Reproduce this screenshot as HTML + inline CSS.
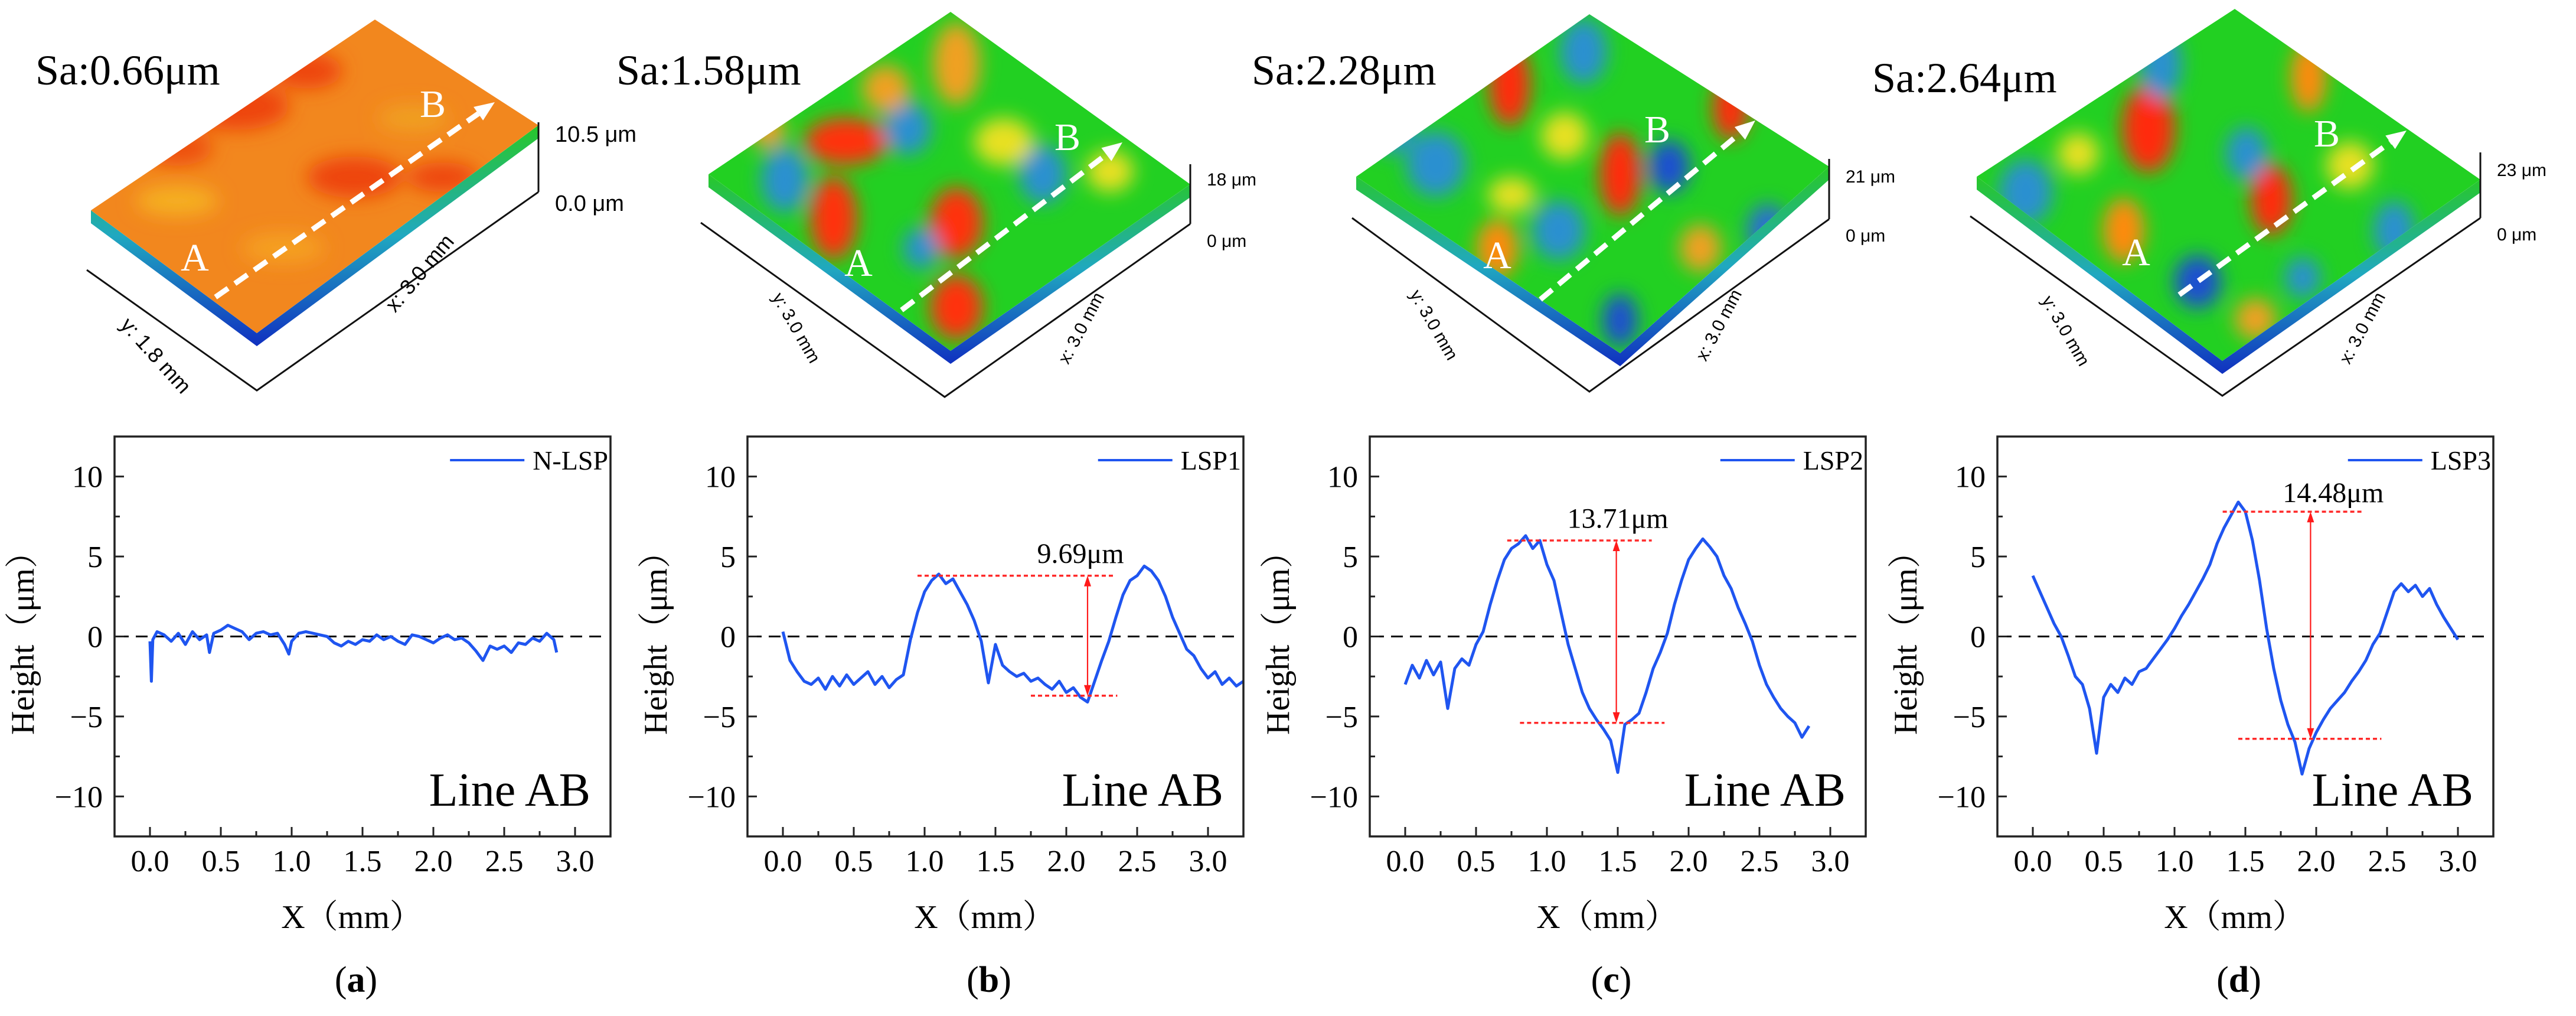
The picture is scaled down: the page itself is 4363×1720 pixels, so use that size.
<!DOCTYPE html>
<html><head><meta charset="utf-8"><style>
html,body{margin:0;padding:0;background:#fff;}
svg{display:block;}
</style></head><body>
<svg id="fig" width="4363" height="1720" viewBox="0 0 4363 1720" xmlns="http://www.w3.org/2000/svg">
<defs>
<filter id="blur" x="-50%" y="-50%" width="200%" height="200%"><feGaussianBlur stdDeviation="16"/></filter>
<linearGradient id="edgeg" x1="0" y1="0" x2="0" y2="1"><stop offset="0" stop-color="#28c828"/><stop offset="0.5" stop-color="#20a8c0"/><stop offset="1" stop-color="#1030c0"/></linearGradient>
</defs>
<g id="surfaces"></g>
<g id="plots"></g>
</svg>
<script>
// ---------- profile data ----------
const profileA_x = [0,0.01,0.02,0.05,0.1,0.15,0.2,0.25,0.3,0.35,0.4,0.42,0.45,0.5,0.55,0.6,0.65,0.7,0.75,0.8,0.85,0.9,0.95,0.98,1.0,1.05,1.1,1.15,1.2,1.25,1.3,1.35,1.4,1.45,1.5,1.55,1.6,1.65,1.7,1.75,1.8,1.85,1.9,1.95,2.0,2.05,2.1,2.15,2.2,2.25,2.3,2.35,2.4,2.45,2.5,2.55,2.6,2.65,2.7,2.75,2.8,2.85,2.87];
const profileA_y = [-0.3,-2.8,-0.2,0.3,0.1,-0.3,0.2,-0.5,0.3,-0.2,0.1,-1.0,0.2,0.4,0.7,0.5,0.3,-0.2,0.2,0.3,0.1,0.2,-0.5,-1.1,-0.3,0.2,0.3,0.2,0.1,0.0,-0.4,-0.6,-0.3,-0.5,-0.2,-0.3,0.1,-0.2,0.0,-0.3,-0.5,0.1,0.0,-0.2,-0.4,-0.1,0.1,-0.2,-0.1,-0.4,-0.9,-1.5,-0.6,-0.8,-0.6,-1.0,-0.4,-0.5,-0.1,-0.3,0.2,-0.2,-1.0];
const profileB_x = [0,0.05,0.1,0.15,0.2,0.25,0.3,0.35,0.4,0.45,0.5,0.55,0.6,0.65,0.7,0.75,0.8,0.85,0.9,0.95,1.0,1.05,1.1,1.15,1.2,1.25,1.3,1.35,1.4,1.45,1.5,1.55,1.6,1.65,1.7,1.75,1.8,1.85,1.9,1.95,2.0,2.05,2.1,2.15,2.2,2.25,2.3,2.35,2.4,2.45,2.5,2.55,2.6,2.65,2.7,2.75,2.8,2.85,2.9,2.95,3.0,3.05,3.1,3.15,3.2,3.25];
const profileB_y = [0.3,-1.5,-2.2,-2.8,-3.0,-2.6,-3.3,-2.5,-3.1,-2.4,-3.0,-2.6,-2.2,-3.0,-2.5,-3.2,-2.7,-2.4,-0.2,1.5,2.8,3.5,3.9,3.3,3.6,2.8,2.0,1.0,-0.3,-2.9,-0.5,-1.8,-2.2,-2.5,-2.3,-2.8,-2.6,-3.0,-3.3,-2.8,-3.5,-3.2,-3.8,-4.1,-2.8,-1.5,-0.3,1.2,2.6,3.5,3.8,4.4,4.1,3.5,2.5,1.2,0.2,-0.8,-1.2,-2.0,-2.6,-2.2,-3.0,-2.6,-3.1,-2.8];
const profileC_x = [0,0.05,0.1,0.15,0.2,0.25,0.3,0.35,0.4,0.45,0.5,0.55,0.6,0.65,0.7,0.75,0.8,0.85,0.9,0.95,1.0,1.05,1.1,1.15,1.2,1.25,1.3,1.35,1.4,1.45,1.5,1.55,1.6,1.65,1.7,1.75,1.8,1.85,1.9,1.95,2.0,2.05,2.1,2.15,2.2,2.25,2.3,2.35,2.4,2.45,2.5,2.55,2.6,2.65,2.7,2.75,2.8,2.85];
const profileC_y = [-3.0,-1.8,-2.6,-1.5,-2.4,-1.6,-4.5,-2.0,-1.4,-1.8,-0.5,0.3,2.0,3.5,4.8,5.5,5.8,6.3,5.5,6.0,4.5,3.5,1.5,-0.5,-2.0,-3.5,-4.5,-5.2,-5.8,-6.5,-8.5,-5.5,-5.2,-4.8,-3.5,-2.0,-1.0,0.2,2.0,3.5,4.8,5.5,6.1,5.6,5.0,3.8,3.0,1.8,0.8,-0.3,-1.8,-3.0,-3.8,-4.5,-5.0,-5.4,-6.3,-5.6];
const profileD_x = [0,0.05,0.1,0.15,0.2,0.25,0.3,0.35,0.4,0.45,0.5,0.55,0.6,0.65,0.7,0.75,0.8,0.85,0.9,0.95,1.0,1.05,1.1,1.15,1.2,1.25,1.3,1.35,1.4,1.45,1.5,1.55,1.6,1.65,1.7,1.75,1.8,1.85,1.9,1.95,2.0,2.05,2.1,2.15,2.2,2.25,2.3,2.35,2.4,2.45,2.5,2.55,2.6,2.65,2.7,2.75,2.8,2.85,2.9,2.95,3.0];
const profileD_y = [3.8,2.8,1.8,0.8,0.0,-1.2,-2.5,-3.0,-4.5,-7.3,-3.8,-3.0,-3.5,-2.6,-3.0,-2.2,-2.0,-1.4,-0.8,-0.2,0.5,1.3,2.0,2.8,3.6,4.5,5.8,6.8,7.6,8.4,7.8,6.0,3.5,0.5,-2.0,-4.0,-5.5,-6.6,-8.6,-7.0,-6.0,-5.2,-4.5,-4.0,-3.5,-2.8,-2.2,-1.5,-0.5,0.2,1.5,2.8,3.3,2.8,3.2,2.5,3.0,2.0,1.2,0.5,-0.2];
const legendLabels = ["N-LSP","LSP1","LSP2","LSP3"];
const panelLetters = ["a","b","c","d"];
const xTicks = [0.0,0.5,1.0,1.5,2.0,2.5,3.0];
const xTickLabels = ["0.0","0.5","1.0","1.5","2.0","2.5","3.0"];
const yTicks = [-10,-5,0,5,10];
const yTickLabels = ["\u221210","\u22125","0","5","10"];
// annotations: [topY, topX0, topX1, botY, botX0, botX1, arrowX, label, labelX, labelY]
const annB = [3.8,0.95,2.34,-3.7,1.75,2.36,2.15,"9.69\u03bcm",2.1,4.6];
const annC = [6.0,0.72,1.74,-5.4,0.81,1.83,1.49,"13.71\u03bcm",1.5,6.8];
const annD = [7.8,1.34,2.33,-6.4,1.45,2.46,1.96,"14.48\u03bcm",2.12,8.4];

const NS="http://www.w3.org/2000/svg";
function mk(tag,attrs,parent){const e=document.createElementNS(NS,tag);for(const k in attrs)e.setAttribute(k,attrs[k]);parent.appendChild(e);return e;}
const plots=document.getElementById('plots');
const offsets=[194,1266,2320,3383];
const PW=840,PT=739,PH=677,XMIN=-0.25,XMAX=3.25,YMIN=-12.5,YMAX=12.5;
const profiles=[[profileA_x,profileA_y],[profileB_x,profileB_y],[profileC_x,profileC_y],[profileD_x,profileD_y]];
const anns=[null,annB,annC,annD];
const serif='"Liberation Serif", "Noto Serif CJK SC", serif';

offsets.forEach((L,i)=>{
  const sx=v=>L+(v-XMIN)/(XMAX-XMIN)*PW;
  const sy=v=>PT+(YMAX-v)/(YMAX-YMIN)*PH;
  const g=mk('g',{},plots);
  
  
  const z=mk('line',{x1:L+4,x2:L+PW-4,y1:sy(0),y2:sy(0),stroke:'#000','stroke-width':3,'stroke-dasharray':'20 12'},g);
  
  
  const [xs,ys]=profiles[i];
  const pts=xs.map((x,k)=>sx(x).toFixed(1)+','+sy(ys[k]).toFixed(1)).join(' ');
  const pl=mk('polyline',{points:pts,fill:'none',stroke:'#1f55f0','stroke-width':5,'stroke-linejoin':'round'},g);
  
  
  const a=anns[i];
  if(a){
    const ag=mk('g',{},g);
    
    
    mk('line',{x1:sx(a[1]),x2:sx(a[2]),y1:sy(a[0]),y2:sy(a[0]),stroke:'#ff2a2a','stroke-width':3.5,'stroke-dasharray':'7 5'},ag);
    mk('line',{x1:sx(a[4]),x2:sx(a[5]),y1:sy(a[3]),y2:sy(a[3]),stroke:'#ff2a2a','stroke-width':3.5,'stroke-dasharray':'7 5'},ag);
    const ax=sx(a[6]),t=sy(a[0]),b=sy(a[3]);
    mk('line',{x1:ax,x2:ax,y1:t+10,y2:b-10,stroke:'#ff1a1a','stroke-width':2.2},ag);
    mk('polygon',{points:`${ax},${t} ${ax-6},${t+18} ${ax+6},${t+18}`,fill:'#ff1a1a'},ag);
    mk('polygon',{points:`${ax},${b} ${ax-6},${b-18} ${ax+6},${b-18}`,fill:'#ff1a1a'},ag);
    const tx=mk('text',{x:sx(a[8]),y:sy(a[9]),'text-anchor':'middle','font-family':serif,'font-size':48,fill:'#000'},ag);
    tx.textContent=a[7];
  }
  const fr=mk('rect',{x:L,y:PT,width:PW,height:PH,fill:'none',stroke:'#222','stroke-width':3.5},g);
  
  
  const xg=mk('g',{},g);
  
  
  xTicks.forEach((v,k)=>{
    mk('line',{x1:sx(v),x2:sx(v),y1:PT+PH,y2:PT+PH-16,stroke:'#222','stroke-width':3},xg);
    if(k<xTicks.length-1){const m=(v+xTicks[k+1])/2;mk('line',{x1:sx(m),x2:sx(m),y1:PT+PH,y2:PT+PH-9,stroke:'#222','stroke-width':3},xg);}
    const t=mk('text',{x:sx(v),y:1475,'text-anchor':'middle','font-family':serif,'font-size':52,fill:'#000'},xg);
    t.textContent=xTickLabels[k];
  });
  const xt=mk('text',{x:L+402,y:1571,'text-anchor':'middle','font-family':serif,'font-size':56,fill:'#000'},g);
  xt.textContent='X\uff08mm\uff09';
  
  
  const yg=mk('g',{},g);
  
  
  yTicks.forEach((v,k)=>{
    mk('line',{x1:L,x2:L+16,y1:sy(v),y2:sy(v),stroke:'#222','stroke-width':3},yg);
    if(k<yTicks.length-1){const m=(v+yTicks[k+1])/2;mk('line',{x1:L,x2:L+9,y1:sy(m),y2:sy(m),stroke:'#222','stroke-width':3},yg);}
    const t=mk('text',{x:L-20,y:sy(v)+18,'text-anchor':'end','font-family':serif,'font-size':52,fill:'#000'},yg);
    t.textContent=yTickLabels[k];
  });
  const yt=mk('text',{x:0,y:0,transform:`translate(${L-137},1075) rotate(-90)`,'text-anchor':'middle','font-family':serif,'font-size':56,fill:'#000'},g);
  yt.textContent='Height\uff08\u03bcm\uff09';
  
  
  const lg=mk('g',{},g);
  
  
  const lt=mk('text',{x:L+836,y:795,'text-anchor':'end','font-family':serif,'font-size':46,fill:'#000'},lg);
  lt.textContent=legendLabels[i];
  const w=lt.getComputedTextLength?lt.getComputedTextLength():110;
  mk('line',{x1:L+836-w-140,x2:L+836-w-14,y1:779,y2:779,stroke:'#1f55f0','stroke-width':4},lg);
  const ab=mk('text',{x:L+806,y:1364,'text-anchor':'end','font-family':serif,'font-size':80,fill:'#000'},g);
  ab.textContent='Line AB';
  
  
  const pc=L+409;
  const pt=mk('text',{x:pc,y:1679,'text-anchor':'middle','font-family':serif,'font-size':62,fill:'#000'},g);
  pt.innerHTML='(<tspan font-weight="bold">'+panelLetters[i]+'</tspan>)';
  
  
});

// ---------- 3D surface illustrations ----------
const surfaces=document.getElementById('surfaces');
const sans='"Liberation Sans", sans-serif';
const S=[
 {q:[[635,33],[912,212],[435,564],[154,356]],ax:[[147,457],[435,661],[912,325]],z:[207,325],zl:['10.5 \u03bcm','0.0 \u03bcm'],zly:[240,357],sa:'Sa:0.66\u03bcm',sax:60,say:143,A:[330,458],B:[733,198],ar:[[365,503],[838,173]],base:'#f2871e',
  yl:'y: 1.8 mm',xl:'x: 3.0 mm',ylp:[255,610,48],xlp:[720,470,-50],
  blobs:[['#ee4410',400,180,90,40],['#ee4410',600,300,80,35],['#f5b020',300,340,70,25],['#ee4410',520,120,60,30],['#f0a020',700,200,60,22],['#ee5010',300,250,60,30],['#f5a020',480,420,70,25],['#ee4410',750,300,60,25]]},
 {q:[[1610,20],[2016,312],[1610,594],[1200,295]],ax:[[1187,377],[1600,672],[2016,379]],z:[278,379],zl:['18 \u03bcm','0 \u03bcm'],zly:[314,418],sa:'Sa:1.58\u03bcm',sax:1044,say:143,A:[1454,467],B:[1808,254],ar:[[1527,525],[1901,241]],base:'#22d022',
  yl:'y: 3.0 mm',xl:'x: 3.0 mm',ylp:[1340,560,60],xlp:[1840,560,-62],
  blobs:[['#ff3010',1433,239,70,40],['#ff3010',1412,369,40,70],['#ff3010',1620,377,45,60],['#ff3010',1620,520,45,55],['#f0a020',1620,108,40,70],['#2a90d0',1329,304,40,55],['#2a90d0',1537,217,40,45],['#2a90d0',1766,295,40,50],['#e8e020',1700,240,50,40],['#f0a020',1500,150,40,40],['#e8e020',1880,290,40,35],['#2a90d0',1560,420,30,35],['#f0a020',1300,220,30,30]]},
 {q:[[2692,24],[3098,282],[2744,598],[2297,299]],ax:[[2290,369],[2692,663],[3098,371]],z:[269,371],zl:['21 \u03bcm','0 \u03bcm'],zly:[309,409],sa:'Sa:2.28\u03bcm',sax:2120,say:143,A:[2536,454],B:[2807,241],ar:[[2609,507],[2973,204]],base:'#22d022',
  yl:'y: 3.0 mm',xl:'x: 3.0 mm',ylp:[2420,555,60],xlp:[2920,555,-62],
  blobs:[['#ff2a10',2557,143,35,70],['#ff2a10',2744,295,35,70],['#ff2a10',2931,182,30,55],['#ff8a10',2536,421,35,50],['#2a90d0',2682,87,40,55],['#2a90d0',2432,278,50,55],['#1a50d0',2827,282,35,45],['#2a90d0',2640,390,45,50],['#1a50d0',2744,542,30,45],['#2a70d0',2994,390,35,45],['#e8e020',2650,230,40,40],['#e8e020',2560,330,40,30],['#f0a020',2880,420,35,40],['#2a90d0',2360,220,35,40]]},
 {q:[[3785,15],[4201,304],[3764,611],[3348,299]],ax:[[3337,366],[3764,670],[4201,369]],z:[258,369],zl:['23 \u03bcm','0 \u03bcm'],zly:[298,407],sa:'Sa:2.64\u03bcm',sax:3171,say:156,A:[3618,449],B:[3941,248],ar:[[3691,499],[4076,221]],base:'#22d022',
  yl:'y: 3.0 mm',xl:'x: 3.0 mm',ylp:[3490,565,60],xlp:[4010,560,-62],
  blobs:[['#ff2a10',3639,217,45,75],['#ff2a10',3847,338,35,60],['#ff8a10',3597,390,35,55],['#ff8a10',3910,130,30,60],['#2a90d0',3660,108,35,60],['#2a90d0',3805,260,35,45],['#2a90d0',3431,325,45,55],['#1a50d0',3722,477,40,45],['#2a90d0',4055,390,35,50],['#e8e020',3980,280,40,40],['#e8e020',3520,260,35,35],['#f0a020',3820,540,35,35],['#2a90d0',3900,470,30,35]]}
];
S.forEach((s,i)=>{
  const g=mk('g',{},surfaces);
  
  
  const q=s.q;
  const d=22;
  const ep=`${q[3][0]},${q[3][1]} ${q[2][0]},${q[2][1]} ${q[1][0]},${q[1][1]} ${q[1][0]},${q[1][1]+d} ${q[2][0]},${q[2][1]+d} ${q[3][0]},${q[3][1]+d}`;
  mk('polygon',{points:ep,fill:'url(#edgeg)'},g);
  const cid='clip'+i;
  const cp=mk('clipPath',{id:cid},g);
  const qp=q.map(p=>p.join(',')).join(' ');
  mk('polygon',{points:qp},cp);
  const sg=mk('g',{'clip-path':`url(#${cid})`},g);
  mk('polygon',{points:qp,fill:s.base},sg);
  const bg=mk('g',{filter:'url(#blur)'},sg);
  s.blobs.forEach(b=>mk('ellipse',{cx:b[1],cy:b[2],rx:b[3],ry:b[4],fill:b[0]},bg));
  const ax=s.ax;
  mk('polyline',{points:ax.map(p=>p.join(',')).join(' '),fill:'none',stroke:'#111','stroke-width':3},g);
  mk('line',{x1:ax[2][0],x2:ax[2][0],y1:s.z[0],y2:s.z[1],stroke:'#111','stroke-width':3},g);
  s.zl.forEach((t,k)=>{const e=mk('text',{x:ax[2][0]+28,y:s.zly[k],'font-family':sans,'font-size':i==0?38:30,fill:'#000'},g);e.textContent=t;});
  const yl=mk('text',{x:0,y:0,transform:`translate(${s.ylp[0]},${s.ylp[1]}) rotate(${s.ylp[2]})`,'text-anchor':'middle','font-family':sans,'font-size':i==0?36:30,fill:'#000'},g);
  yl.textContent=s.yl;
  const xl=mk('text',{x:0,y:0,transform:`translate(${s.xlp[0]},${s.xlp[1]}) rotate(${s.xlp[2]})`,'text-anchor':'middle','font-family':sans,'font-size':i==0?36:30,fill:'#000'},g);
  xl.textContent=s.xl;
  const [p0,p1]=s.ar;
  const ang=Math.atan2(p1[1]-p0[1],p1[0]-p0[0]);
  const hx=p1[0]-34*Math.cos(ang),hy=p1[1]-34*Math.sin(ang);
  const ar=mk('line',{x1:p0[0],y1:p0[1],x2:hx,y2:hy,stroke:'#fff','stroke-width':9,'stroke-dasharray':'26 14'},g);
  
  
  const nx=-Math.sin(ang),ny=Math.cos(ang);
  mk('polygon',{points:`${p1[0]},${p1[1]} ${hx+14*nx},${hy+14*ny} ${hx-14*nx},${hy-14*ny}`,fill:'#fff'},g);
  const A=mk('text',{x:s.A[0],y:s.A[1],'text-anchor':'middle','font-family':serif,'font-size':66,fill:'#fff'},g);A.textContent='A';
  const B=mk('text',{x:s.B[0],y:s.B[1],'text-anchor':'middle','font-family':serif,'font-size':66,fill:'#fff'},g);B.textContent='B';
  const sa=mk('text',{x:s.sax,y:s.say,'font-family':serif,'font-size':72,fill:'#000'},g);
  sa.textContent=s.sa;
  
  
});
</script>
</body></html>
